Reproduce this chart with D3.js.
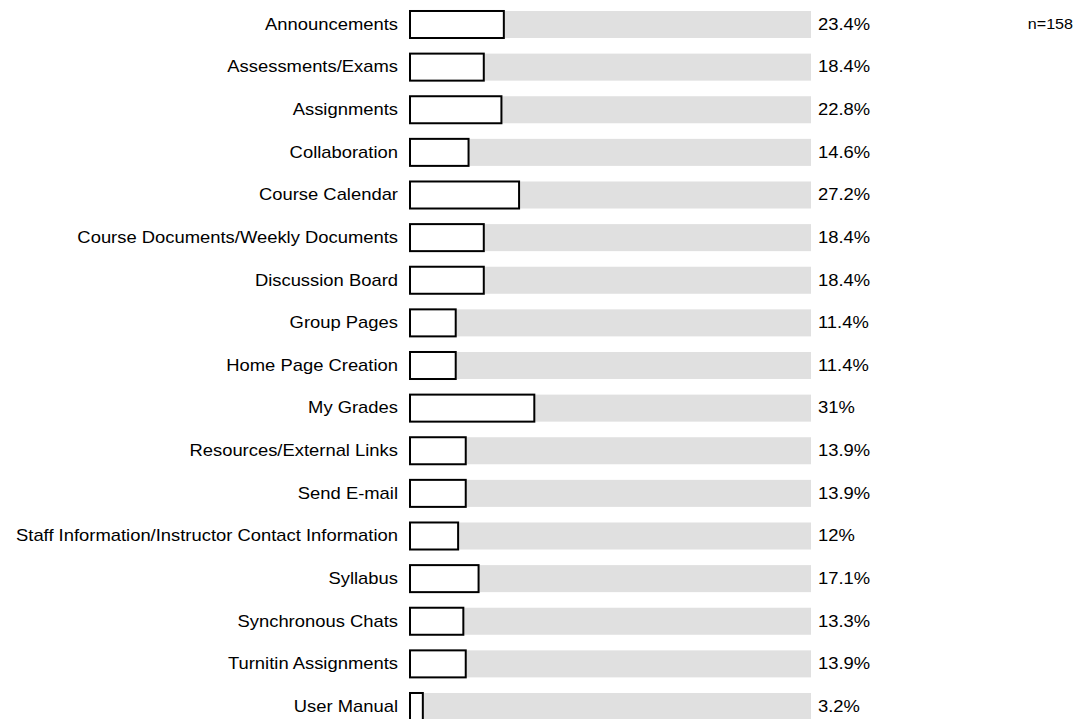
<!DOCTYPE html>
<html><head><meta charset="utf-8">
<script src="https://cdn.jsdelivr.net/npm/d3@7"></script>
<style>body{margin:0;background:#fff}svg{display:block}text{font-family:"Liberation Sans",Arial,sans-serif;fill:#000}</style>
</head><body>
<script>
const categories = ["Announcements","Assessments/Exams","Assignments","Collaboration","Course Calendar","Course Documents/Weekly Documents","Discussion Board","Group Pages","Home Page Creation","My Grades","Resources/External Links","Send E-mail","Staff Information/Instructor Contact Information","Syllabus","Synchronous Chats","Turnitin Assignments","User Manual"];
const values = [23.4,18.4,22.8,14.6,27.2,18.4,18.4,11.4,11.4,31,13.9,13.9,12,17.1,13.3,13.9,3.2];
const valueLabels = ["23.4%","18.4%","22.8%","14.6%","27.2%","18.4%","18.4%","11.4%","11.4%","31%","13.9%","13.9%","12%","17.1%","13.3%","13.9%","3.2%"];
const nLabel = "n=158";

const W=1091,H=719;
const sx=1.15;
const svg=d3.select("body").append("svg").attr("width",W).attr("height",H);
const x=d3.scaleLinear().domain([0,100]).range([410,811]);
const y=d3.scaleBand().domain(categories).range([11-(42.625-27)/2, 11-(42.625-27)/2+42.625*17]).paddingInner(15.6/42.6).paddingOuter(15.6/42.6/2);
const g=svg.append("g");
const rows=g.selectAll("g.row").data(categories).join("g").attr("class","row");
rows.append("rect").attr("x",x(0)).attr("y",d=>y(d)).attr("width",x(100)-x(0)).attr("height",y.bandwidth()).attr("fill","#e0e0e0");
rows.append("rect").attr("x",x(0)).attr("y",d=>y(d)).attr("width",(d,i)=>x(values[i])-x(0)).attr("height",y.bandwidth()).attr("fill","#fff").attr("stroke","#000").attr("stroke-width",2);
rows.append("text").attr("transform",d=>`translate(398,${y(d)+y.bandwidth()/2}) scale(${sx},1)`).attr("dy","0.33em").attr("text-anchor","end").attr("font-size",16).text(d=>d);
rows.append("text").attr("transform",d=>`translate(818,${y(d)+y.bandwidth()/2}) scale(${sx},1)`).attr("dy","0.33em").attr("font-size",16).text((d,i)=>valueLabels[i]);
svg.append("text").attr("transform",`translate(1073,${y(categories[0])+y.bandwidth()/2}) scale(${sx},1)`).attr("dy","0.33em").attr("text-anchor","end").attr("font-size",14).text(nLabel);
</script>
</body></html>
